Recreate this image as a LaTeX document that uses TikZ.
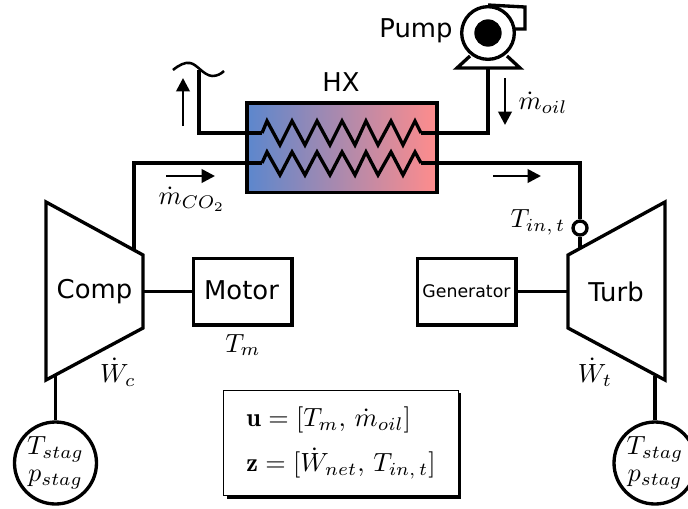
\documentclass[tikz,border=0pt]{standalone}
\usepackage{fontspec}
\usepackage{amsmath}
\usepackage{graphicx}
\newfontfamily\dvfont{DejaVu Sans}
\usetikzlibrary{arrows.meta,shadows}
\definecolor{hxblue}{RGB}{92,135,205}
\definecolor{hxred}{RGB}{255,140,140}
\newcommand{\mth}[1]{\scalebox{1.97}{$#1$}}
\tikzset{
  x=0.75pt,y=-0.75pt,
  pipe/.style={line width=2.5pt,line join=miter},
  flow/.style={line width=2pt,-{Triangle[length=10pt,width=10pt]}},
  unitbox/.style={draw,line width=2.5pt,fill=white,inner sep=0pt,minimum width=74pt,minimum height=50pt},
  lab/.style={inner sep=0pt,font=\dvfont\fontsize{19.4}{23}\selectfont},
  mlab/.style={inner sep=0pt},
  stag/.style={circle,draw,line width=2.5pt,fill=white,inner sep=0pt,minimum size=61.5pt,align=center,font=\fontsize{10}{20}\selectfont}
}
\begin{document}
\begin{tikzpicture}
\useasboundingbox (0,0) rectangle (688,508);
% heat exchanger
\node[draw,line width=2.5pt,left color=hxblue,right color=hxred,inner sep=0pt,minimum width=142.5pt,minimum height=67pt] (hx) at (342,147.5) {};
\node[lab] (hxl) at (341,82) {HX};
% coils
\coordinate (ta) at (262,133); \coordinate (tb) at (421,133);
\coordinate (ba) at (262,163); \coordinate (bb) at (421,163);
\draw[pipe] (ta) -- (267,121) -- (280,145) -- (292,121) -- (305,145) -- (317,121) -- (330,145) -- (342,121) -- (355,145) -- (366,121) -- (378,145) -- (391,121) -- (403,145) -- (415,121) -- (tb);
\draw[pipe] (ba) -- (267,152) -- (280,175) -- (292,152) -- (305,175) -- (317,152) -- (330,175) -- (342,152) -- (355,175) -- (366,152) -- (378,175) -- (391,152) -- (403,175) -- (415,152) -- (bb);
% pump
\node[circle,draw,line width=2.5pt,fill=white,inner sep=0pt,minimum size=39.5pt] (pump) at (488,33) {};
\node[circle,fill=black,inner sep=0pt,minimum size=20.5pt] (rotor) at (488,33) {};
\coordinate (pumpfoot) at (488,68);
\draw[pipe] (pump.north) -- (525,7) -- (525,29) -- (515,29);
\draw[pipe] (470,56) -- (457,68) -- (520,68) -- (507,56);
\node[lab] (pumpl) at (416,31) {Pump};
% vent
\coordinate (ventbase) at (199,70);
\draw[line width=1.9pt] (173,70) .. controls (179,65) and (185,62) .. (190,63) .. controls (197,64) and (203,75) .. (212,76) .. controls (217,76) and (221,74) .. (224,71);
% pipes
\draw[pipe] (ventbase) |- (ta);
\draw[pipe] (tb) -| (pumpfoot);
% machines
\coordinate (c1) at (46,202); \coordinate (c2) at (143,255); \coordinate (c3) at (143,328); \coordinate (c4) at (46,380);
\coordinate (t1) at (665,202); \coordinate (t2) at (568,255); \coordinate (t3) at (568,328); \coordinate (t4) at (665,380);
\draw[pipe] (c1) -- (c2) -- (c3) -- (c4) -- cycle;
\draw[pipe] (t1) -- (t2) -- (t3) -- (t4) -- cycle;
\node[lab] (comp) at (94.5,292) {Comp};
\node[lab] (turb) at (616,292) {Turb};
\node[unitbox] (motor) at (242.5,291.5) {};
\node[lab] at (241.5,290.5) {Motor};
\node[unitbox,font=\dvfont\fontsize{13}{15}\selectfont] (gen) at (466.5,291.5) {Generator};
\coordinate (cr) at (143,291.5); \coordinate (tl) at (568,291.5);
\draw[pipe] (cr) -- (motor.west);
\draw[pipe] (gen.east) -- (tl);
% CO2 loop
\coordinate (cout) at (134,250);
\coordinate (tin) at (580,249);
\node[circle,draw,line width=2.5pt,fill=white,inner sep=0pt,minimum size=10.5pt] (sensor) at (580,228) {};
\draw[pipe] (cout) |- (ba);
\draw[pipe] (bb) -| (sensor.north);
\draw[pipe] (sensor.south) -- (tin);
% flow arrows
\coordinate (a1s) at (183,126); \coordinate (a1e) at (183,78);
\coordinate (a2s) at (505,78); \coordinate (a2e) at (505,125);
\coordinate (a3s) at (166,176); \coordinate (a3e) at (215,176);
\coordinate (a4s) at (493,176); \coordinate (a4e) at (541,176);
\draw[flow] (a1s) -- (a1e);
\draw[flow] (a2s) -- (a2e);
\draw[flow] (a3s) -- (a3e);
\draw[flow] (a4s) -- (a4e);
% stagnation
\node[stag] (sl) at (55.5,463) {\raisebox{-2pt}{\mth{T_{stag}}}\\\raisebox{-2pt}{\mth{p_{stag}}}};
\node[stag] (sr) at (655,463) {\raisebox{-2pt}{\mth{T_{stag}}}\\\raisebox{-2pt}{\mth{p_{stag}}}};
\coordinate (cb) at (55.5,376); \coordinate (tb2) at (655,376);
\draw[pipe] (cb) -- (sl.north);
\draw[pipe] (tb2) -- (sr.north);
% labels
\node[mlab] (l1) at (543,103) {\mth{\dot m_{oil}}};
\node[mlab] (l2) at (192,199) {\mth{\dot m_{CO_2}}};
\node[mlab] (l3) at (538,222) {\mth{T_{in,\,t}}};
\node[mlab] (l4) at (243,345) {\mth{T_m}};
\node[mlab] (l5) at (118,372) {\mth{\dot W_c}};
\node[mlab] (l6) at (595,372) {\mth{\dot W_t}};
% summary box
\node[draw=black,line width=1.1pt,fill=white,inner sep=0pt,minimum width=176pt,minimum height=79pt,drop shadow={shadow xshift=2.2pt,shadow yshift=-2.2pt,fill=black,opacity=1},align=left,font=\fontsize{10}{26}\selectfont] (sum) at (341,443) {\mth{\mathbf{u}=[T_m,\,\dot m_{oil}]}\\[8pt]\mth{\mathbf{z}=[\dot W_{net},\,T_{in,\,t}]}};
\end{tikzpicture}
\end{document}
